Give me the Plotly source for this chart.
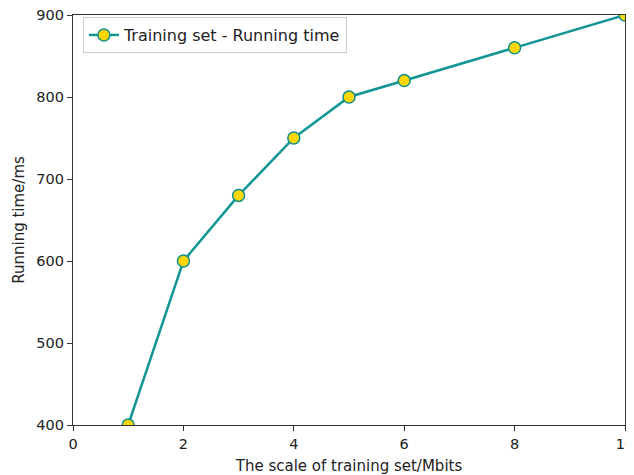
import plotly.graph_objects as go

x_vals = [1, 2, 3, 4, 5, 6, 8, 10]
y_vals = [400, 600, 680, 750, 800, 820, 860, 900]
x_ticks = [0, 2, 4, 6, 8, 10]
y_ticks = [400, 500, 600, 700, 800, 900]

fig = go.Figure()
fig.add_trace(go.Scatter(
    x=x_vals, y=y_vals, mode="lines+markers",
    name="Training set - Running time",
    line=dict(color="#119595", width=2.5),
    marker=dict(size=12, color="#FFD700", line=dict(color="#118f8f", width=1.5)),
    cliponaxis=True,
))

axis_common = dict(
    showgrid=False, zeroline=False, showline=True, linecolor="#333333", linewidth=1.2,
    mirror=True, ticks="outside", ticklen=5, tickcolor="#333333",
    tickfont=dict(family="DejaVu Sans", size=14.5, color="#222222"),
    automargin=False, ticklabeloverflow="allow",
)
fig.update_layout(
    width=634, height=475,
    margin=dict(l=65, r=17, t=7, b=58),
    paper_bgcolor="white", plot_bgcolor="white",
    font=dict(family="DejaVu Sans", size=15, color="#222222"),
    xaxis=dict(range=[0, 10], tickvals=x_ticks,
               title=dict(text="The scale of training set/Mbits", standoff=9, font=dict(size=15)),
               **axis_common),
    yaxis=dict(range=[400, 900], tickvals=y_ticks,
               title=dict(text="Running time/ms", standoff=8, font=dict(size=15)),
               **axis_common),
    showlegend=True,
    legend=dict(x=0.018, y=0.995, xanchor="left", yanchor="top",
                bgcolor="white", bordercolor="#cccccc", borderwidth=1,
                font=dict(size=16)),
)
fig.write_html("out.html")
